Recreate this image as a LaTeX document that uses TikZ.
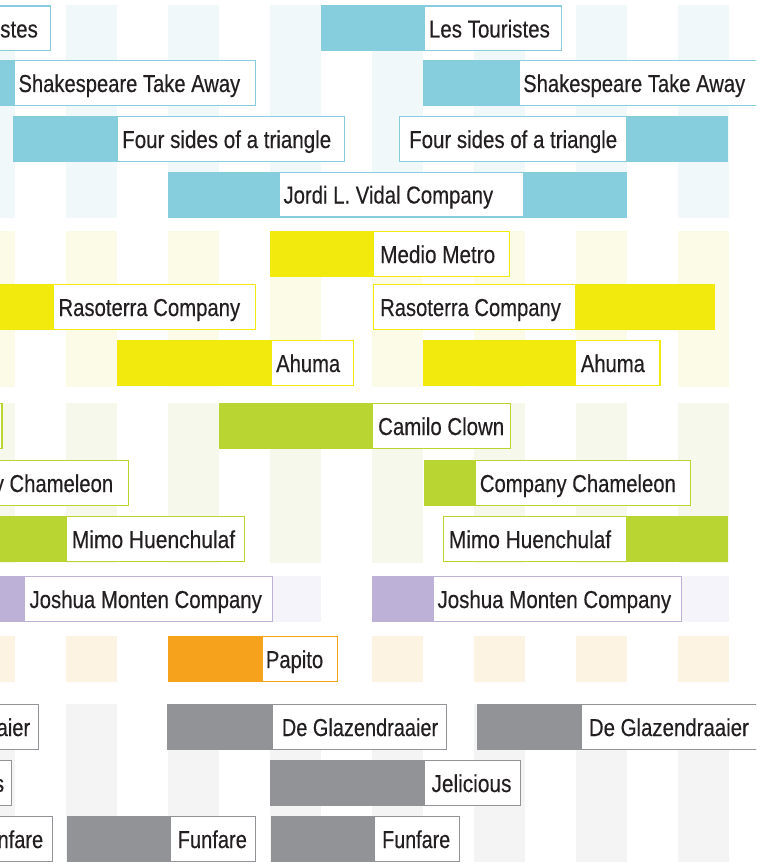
\documentclass[tikz,border=0pt]{standalone}
\usepackage{fontspec}
\setmainfont{Liberation Sans}[FakeBold=0.35]
\usepackage{graphicx}
\definecolor{textc}{HTML}{231F20}
\definecolor{bB}{HTML}{86CEDE}\definecolor{sB}{HTML}{F0F8FA}
\definecolor{bY}{HTML}{F2E90D}\definecolor{sY}{HTML}{FCFBE8}
\definecolor{bG}{HTML}{B9D532}\definecolor{sG}{HTML}{F5F8EA}
\definecolor{bP}{HTML}{BEB1D7}\definecolor{sP}{HTML}{F5F4FA}
\definecolor{bO}{HTML}{F7A21D}\definecolor{sO}{HTML}{FDF3E3}
\definecolor{bK}{HTML}{929396}\definecolor{sK}{HTML}{F4F4F4}
\newlength\fitlen
\newcommand\fitw[2]{\settowidth\fitlen{#2}\scalebox{\fpeval{(#1)/\fitlen}}[1]{#2}}
\newcommand\stripes[3]{\foreach \sx in {-36,66,...,678} {\fill[#1] (\sx,#2) rectangle (\sx+51,#3);}}
\newcommand\gbar[4]{\fill[#1] (#2,#4) rectangle (#3,#4+46);}
\newcommand\lbox[8]{%
  \draw[#2, boxline] (#3+0.65,#5+0.65) rectangle (#4-0.65,#5+45.35);
  \node[lbl, anchor=base west] (#1) at (#6,#5+32) {\fitw{#7-#6}{#8}};}
\tikzset{
  lbl/.style={inner sep=0pt, text=textc, font=\fontsize{24.5}{28}\selectfont},
  boxline/.style={line width=1.3pt, fill=white}
}
\begin{document}
\begin{tikzpicture}[x=1pt,y=-1pt]
\useasboundingbox (0,0) rectangle (756,864);
\fill[white] (0,0) rectangle (756,864);
\begin{scope}
\clip (0,0) rectangle (756,864);
% background stripes
\stripes{sB}{5.5}{217.5}
\stripes{sY}{231}{387}
\stripes{sG}{403}{563}
\stripes{sP}{576}{622}
\stripes{sO}{636}{682}
\stripes{sK}{704}{862}
% ---- blue
\lbox{tB1L}{bB}{-100}{51}{5.5}{-83.3}{37.7}{Les Touristes}
\gbar{bB}{321}{424}{5.5}
\lbox{tB1R}{bB}{424}{562}{5.5}{428.7}{549.7}{Les Touristes}
\gbar{bB}{-10}{14}{60}
\lbox{tB2L}{bB}{14}{256}{60}{18.3}{240}{Shakespeare Take Away}
\gbar{bB}{423}{519}{60}
\lbox{tB2R}{bB}{519}{780}{60}{523}{745}{Shakespeare Take Away}
\gbar{bB}{13}{117}{116}
\lbox{tB3L}{bB}{117}{345}{116}{122}{331}{Four sides of a triangle}
\gbar{bB}{627}{728}{116}
\lbox{tB3R}{bB}{399}{627}{116}{409}{617}{Four sides of a triangle}
\gbar{bB}{168}{627}{171.5}
\lbox{tB4}{bB}{279}{524}{171.5}{283.3}{493}{Jordi L. Vidal Company}
% ---- yellow
\gbar{bY}{270}{373}{231}
\lbox{tY1}{bY}{373}{510}{231}{380}{495}{Medio Metro}
\gbar{bY}{-10}{53}{284}
\lbox{tY2L}{bY}{53}{256}{284}{58.3}{240}{Rasoterra Company}
\gbar{bY}{576}{715}{284}
\lbox{tY2R}{bY}{372.5}{576}{284}{380}{560.7}{Rasoterra Company}
\gbar{bY}{117}{271}{340}
\lbox{tY3L}{bY}{271}{354}{340}{276}{340}{Ahuma}
\gbar{bY}{423}{575}{340}
\lbox{tY3R}{bY}{575}{660.5}{340}{580.7}{644.7}{Ahuma}
% ---- green
\draw[bG, boxline] (-100,403.65) rectangle (1.85,448.35);
\gbar{bG}{219}{372}{403}
\lbox{tG1}{bG}{372}{511}{403}{378}{504}{Camilo Clown}
\lbox{tG2L}{bG}{-100}{129}{460}{-83}{113}{Company Chameleon}
\gbar{bG}{424}{475}{460}
\lbox{tG2R}{bG}{475}{691}{460}{479.7}{675.7}{Company Chameleon}
\gbar{bG}{-10}{66}{516}
\lbox{tG3L}{bG}{66}{245}{516}{71.7}{235}{Mimo Huenchulaf}
\gbar{bG}{627}{728}{516}
\lbox{tG3R}{bG}{443}{627}{516}{448.7}{611}{Mimo Huenchulaf}
% ---- purple
\gbar{bP}{-10}{24}{576}
\lbox{tP1L}{bP}{24}{273}{576}{29.3}{261.7}{Joshua Monten Company}
\gbar{bP}{372}{433}{576}
\lbox{tP1R}{bP}{433}{682}{576}{437.3}{671}{Joshua Monten Company}
% ---- orange
\gbar{bO}{168}{261.5}{636}
\lbox{tO1}{bO}{261.5}{338}{636}{265.7}{323}{Papito}
% ---- grey
\lbox{tK1L}{bK}{-150}{39}{704}{-127}{30}{De Glazendraaier}
\gbar{bK}{167}{272}{704}
\lbox{tK1M}{bK}{272}{447}{704}{281.7}{438}{De Glazendraaier}
\gbar{bK}{477}{581}{704}
\lbox{tK1R}{bK}{581}{790}{704}{588.7}{748.7}{De Glazendraaier}
\lbox{tK2L}{bK}{-100}{12}{760}{-76}{4}{Jelicious}
\gbar{bK}{270}{424}{760}
\lbox{tK2R}{bK}{424}{521}{760}{431.3}{511.3}{Jelicious}
\lbox{tK3L}{bK}{-100}{53}{816}{-26}{43}{Funfare}
\gbar{bK}{67}{170}{816}
\lbox{tK3M}{bK}{170}{256}{816}{177.5}{246.7}{Funfare}
\gbar{bK}{271}{374}{816}
\lbox{tK3R}{bK}{374}{460}{816}{382}{450}{Funfare}
\end{scope}
\end{tikzpicture}
\end{document}
